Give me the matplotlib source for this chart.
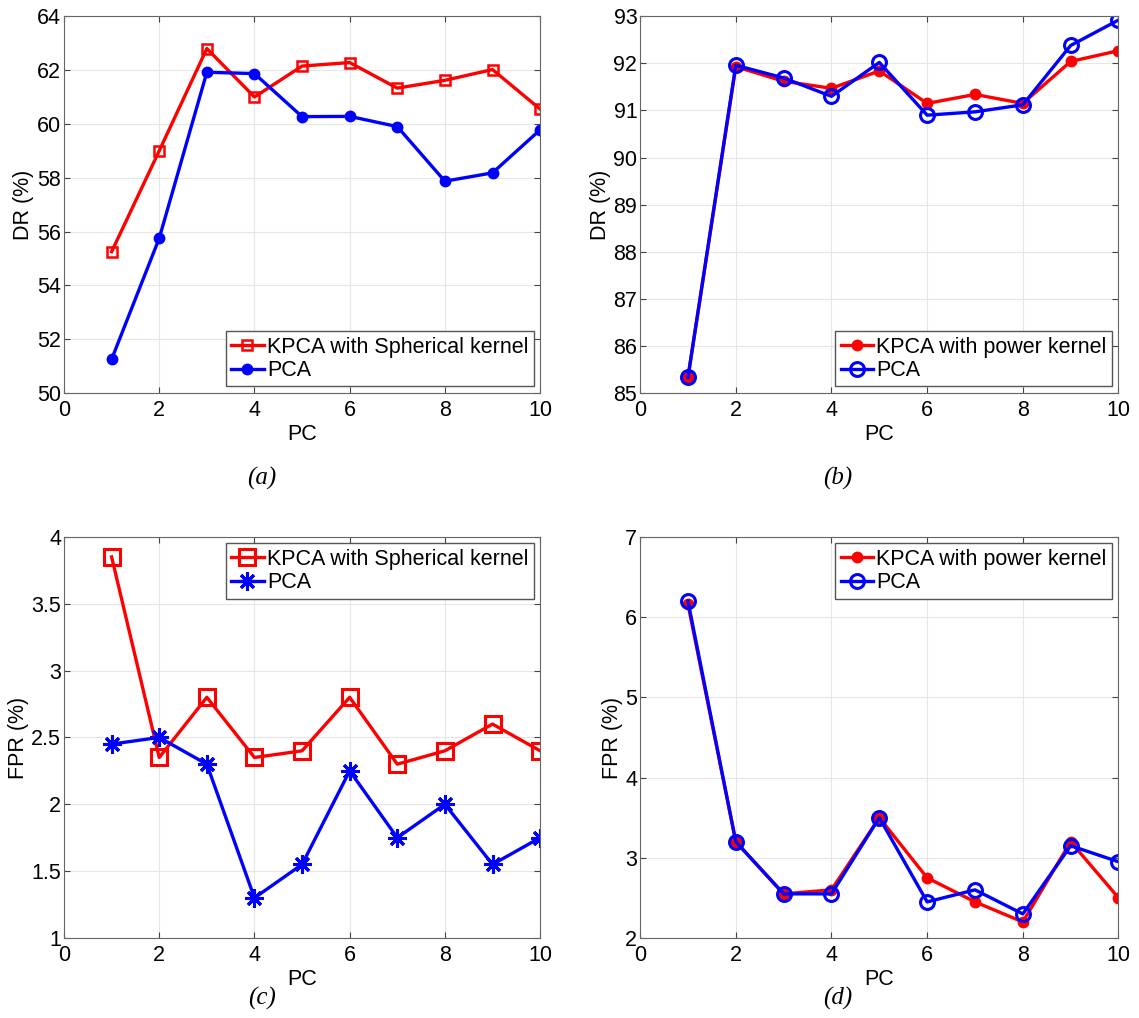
import numpy as np
import matplotlib
matplotlib.use("Agg")
import matplotlib.pyplot as plt

plt.rcParams['font.family'] = ['Liberation Sans', 'DejaVu Sans']

pc = [1, 2, 3, 4, 5, 6, 7, 8, 9, 10]

# (a) detection rate, spherical kernel
dr_sph = [55.25, 59.0, 62.8, 61.0, 62.15, 62.28, 61.33, 61.62, 62.02, 60.55]
dr_pca_a = [51.25, 55.75, 61.92, 61.87, 60.27, 60.28, 59.9, 57.87, 58.18, 59.78]

# (b) detection rate, power kernel
dr_pow = [85.33, 91.93, 91.62, 91.47, 91.84, 91.15, 91.34, 91.15, 92.04, 92.27]
dr_pca_b = [85.33, 91.96, 91.69, 91.3, 92.02, 90.9, 90.97, 91.12, 92.38, 92.92]

# (c) false positive rate, spherical kernel
fpr_sph = [3.85, 2.35, 2.8, 2.35, 2.4, 2.8, 2.3, 2.4, 2.6, 2.4]
fpr_pca_c = [2.45, 2.5, 2.3, 1.3, 1.55, 2.25, 1.75, 2.0, 1.55, 1.75]

# (d) false positive rate, power kernel
fpr_pow = [6.16, 3.2, 2.55, 2.6, 3.5, 2.75, 2.45, 2.2, 3.2, 2.5]
fpr_pca_d = [6.2, 3.2, 2.55, 2.55, 3.5, 2.45, 2.6, 2.3, 3.15, 2.95]

FS = 15.5

fig = plt.figure(figsize=(11.39, 10.18), dpi=100)
ax_a = fig.add_axes([0.0562, 0.614, 0.418, 0.370])
ax_b = fig.add_axes([0.562, 0.614, 0.420, 0.370])
ax_c = fig.add_axes([0.0562, 0.0786, 0.418, 0.394])
ax_d = fig.add_axes([0.562, 0.0786, 0.420, 0.394])


def style(ax, ylim, yticks, ylabel):
    ax.set_xlim(0, 10)
    ax.set_xticks([0, 2, 4, 6, 8, 10])
    ax.set_ylim(*ylim)
    ax.set_yticks(yticks)
    ax.grid(True, color='#e6e6e6', linewidth=0.8)
    ax.set_axisbelow(True)
    ax.tick_params(axis='both', which='both', direction='in', top=True, right=True,
                   labelsize=FS, length=4, color='#444444', pad=2)
    ax.tick_params(axis='x', pad=5)
    for sp in ax.spines.values():
        sp.set_color('#666666')
        sp.set_linewidth(0.8)
    ax.set_xlabel('PC', fontsize=FS, labelpad=2)
    ax.set_ylabel(ylabel, fontsize=FS, labelpad=2)


def leg(ax, loc):
    ax.legend(loc=loc, fontsize=FS, fancybox=False, edgecolor='#555555',
              framealpha=1, handlelength=1.5, handletextpad=0.15, borderpad=0.25,
              labelspacing=0.12, borderaxespad=0.3)


lw = 2.4

# (a)
ax_a.plot(pc, dr_sph, color='red', lw=lw, marker='s', ms=7, mfc='none', mew=1.8,
          label='KPCA with Spherical kernel')
ax_a.plot(pc, dr_pca_a, color='blue', lw=lw, marker='o', ms=7, mfc='blue', mew=1.5,
          label='PCA')
style(ax_a, (50, 64), np.arange(50, 65, 2), 'DR (%)')
leg(ax_a, 'lower right')

# (b)
ax_b.plot(pc, dr_pow, color='red', lw=lw, marker='o', ms=7, mfc='red', mew=1.5,
          label='KPCA with power kernel')
ax_b.plot(pc, dr_pca_b, color='blue', lw=lw, marker='o', ms=10, mfc='none', mew=2.2,
          label='PCA')
style(ax_b, (85, 93), np.arange(85, 94, 1), 'DR (%)')
leg(ax_b, 'lower right')

# (c)
ax_c.plot(pc, fpr_sph, color='red', lw=lw, marker='s', ms=12, mfc='none', mew=2.2,
          label='KPCA with Spherical kernel')
ax_c.plot(pc, fpr_pca_c, color='blue', lw=lw, marker=(8, 2, 0), ms=13, mew=2.2,
          label='PCA')
style(ax_c, (1, 4), [1, 1.5, 2, 2.5, 3, 3.5, 4], 'FPR (%)')
ax_c.set_yticklabels(['1', '1.5', '2', '2.5', '3', '3.5', '4'])
leg(ax_c, 'upper right')

# (d)
ax_d.plot(pc, fpr_pow, color='red', lw=lw, marker='o', ms=7, mfc='red', mew=1.5,
          label='KPCA with power kernel')
ax_d.plot(pc, fpr_pca_d, color='blue', lw=lw, marker='o', ms=10, mfc='none', mew=2.2,
          label='PCA')
style(ax_d, (2, 7), np.arange(2, 8, 1), 'FPR (%)')
leg(ax_d, 'upper right')

# panel captions
cap = dict(fontsize=18, family=['Liberation Serif', 'DejaVu Serif'], style='italic',
           ha='center', va='center')
fig.text(262 / 1139, 1 - 478 / 1018, '(a)', **cap)
fig.text(838 / 1139, 1 - 478 / 1018, '(b)', **cap)
fig.text(262 / 1139, 1 - 998 / 1018, '(c)', **cap)
fig.text(838 / 1139, 1 - 998 / 1018, '(d)', **cap)

fig.savefig('out.png', dpi=100)
